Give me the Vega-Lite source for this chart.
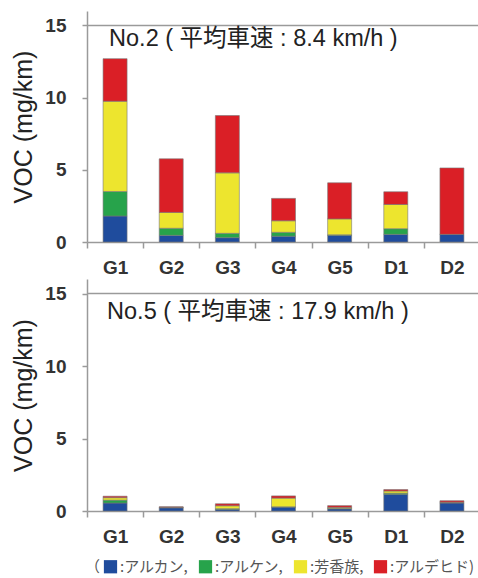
{
  "$schema": "https://vega.github.io/schema/vega-lite/v6.json",
  "padding": {"left": 11, "top": 11, "right": 0, "bottom": 0},
  "background": "white",
  "config": {
    "view": {"stroke": null},
    "font": "Liberation Sans",
    "axis": {"domainColor": "#9a9a9a", "tickColor": "#9a9a9a", "domainWidth": 1.5, "tickWidth": 1.5, "labelColor": "#333333", "labelFontWeight": "bold", "labelFontSize": 19, "labelFont": "Liberation Sans", "grid": false, "titleColor": "#222222", "titleFontWeight": "normal", "titleFont": "Liberation Sans"},
    "concat": {"spacing": 2}
  },
  "datasets": {
    "no2": [
      {"car": "G1", "type": "アルカン", "v": 1.8}, {"car": "G1", "type": "アルケン", "v": 1.7}, {"car": "G1", "type": "芳香族", "v": 6.25}, {"car": "G1", "type": "アルデヒド", "v": 2.95},
      {"car": "G2", "type": "アルカン", "v": 0.46}, {"car": "G2", "type": "アルケン", "v": 0.49}, {"car": "G2", "type": "芳香族", "v": 1.1}, {"car": "G2", "type": "アルデヒド", "v": 3.71},
      {"car": "G3", "type": "アルカン", "v": 0.3}, {"car": "G3", "type": "アルケン", "v": 0.3}, {"car": "G3", "type": "芳香族", "v": 4.19}, {"car": "G3", "type": "アルデヒド", "v": 3.97},
      {"car": "G4", "type": "アルカン", "v": 0.4}, {"car": "G4", "type": "アルケン", "v": 0.27}, {"car": "G4", "type": "芳香族", "v": 0.8}, {"car": "G4", "type": "アルデヒド", "v": 1.55},
      {"car": "G5", "type": "アルカン", "v": 0.46}, {"car": "G5", "type": "アルケン", "v": 0.04}, {"car": "G5", "type": "芳香族", "v": 1.1}, {"car": "G5", "type": "アルデヒド", "v": 2.5},
      {"car": "D1", "type": "アルカン", "v": 0.53}, {"car": "D1", "type": "アルケン", "v": 0.39}, {"car": "D1", "type": "芳香族", "v": 1.68}, {"car": "D1", "type": "アルデヒド", "v": 0.88},
      {"car": "D2", "type": "アルカン", "v": 0.53}, {"car": "D2", "type": "アルケン", "v": 0.0}, {"car": "D2", "type": "芳香族", "v": 0.0}, {"car": "D2", "type": "アルデヒド", "v": 4.6}
    ],
    "no5": [
      {"car": "G1", "type": "アルカン", "v": 0.55}, {"car": "G1", "type": "アルケン", "v": 0.2}, {"car": "G1", "type": "芳香族", "v": 0.17}, {"car": "G1", "type": "アルデヒド", "v": 0.1},
      {"car": "G2", "type": "アルカン", "v": 0.22}, {"car": "G2", "type": "アルケン", "v": 0.02}, {"car": "G2", "type": "芳香族", "v": 0.02}, {"car": "G2", "type": "アルデヒド", "v": 0.03},
      {"car": "G3", "type": "アルカン", "v": 0.1}, {"car": "G3", "type": "アルケン", "v": 0.06}, {"car": "G3", "type": "芳香族", "v": 0.2}, {"car": "G3", "type": "アルデヒド", "v": 0.14},
      {"car": "G4", "type": "アルカン", "v": 0.27}, {"car": "G4", "type": "アルケン", "v": 0.02}, {"car": "G4", "type": "芳香族", "v": 0.6}, {"car": "G4", "type": "アルデヒド", "v": 0.15},
      {"car": "G5", "type": "アルカン", "v": 0.15}, {"car": "G5", "type": "アルケン", "v": 0.03}, {"car": "G5", "type": "芳香族", "v": 0.07}, {"car": "G5", "type": "アルデヒド", "v": 0.12},
      {"car": "D1", "type": "アルカン", "v": 1.15}, {"car": "D1", "type": "アルケン", "v": 0.08}, {"car": "D1", "type": "芳香族", "v": 0.15}, {"car": "D1", "type": "アルデヒド", "v": 0.1},
      {"car": "D2", "type": "アルカン", "v": 0.55}, {"car": "D2", "type": "アルケン", "v": 0.03}, {"car": "D2", "type": "芳香族", "v": 0.03}, {"car": "D2", "type": "アルデヒド", "v": 0.1}
    ]
  },
  "vconcat": [
    {
      "width": 393, "height": 231,
      "layer": [
        {
          "data": {"name": "no2"},
          "transform": [{"calculate": "indexof(['アルカン','アルケン','芳香族','アルデヒド'], datum.type)", "as": "stackOrder"}],
          "mark": {"type": "bar", "width": 24, "stroke": "#777777", "strokeWidth": 0.6},
          "encoding": {
            "x": {"field": "car", "type": "nominal", "sort": ["G1", "G2", "G3", "G4", "G5", "D1", "D2"], "scale": {"paddingInner": 0, "paddingOuter": 0}, "axis": {"title": null, "labelAngle": 0, "tickBand": "extent", "tickSize": 6, "labelPadding": 10}},
            "y": {"field": "v", "type": "quantitative", "stack": "zero", "scale": {"domain": [0, 15]}, "axis": {"title": "VOC (mg/km)", "values": [0, 5, 10, 15], "tickSize": 5, "labelPadding": 16, "titleFontSize": 25, "titlePadding": 8}},
            "order": {"field": "stackOrder", "type": "quantitative", "sort": "ascending"},
            "color": {"field": "type", "type": "nominal",
              "scale": {"domain": ["アルカン", "アルケン", "芳香族", "アルデヒド"], "range": ["#1f4c9d", "#27a34b", "#ede52e", "#da1f26"]},
              "legend": {"title": "（", "orient": "none", "legendX": -2, "legendY": 548, "direction": "horizontal", "symbolType": "square", "symbolSize": 175, "symbolStrokeWidth": 0, "labelFontSize": 15, "labelFont": "Noto Sans CJK JP", "labelColor": "#555555", "titleFontSize": 15, "titleFont": "Noto Sans CJK JP", "titleOrient": "left", "titleFontWeight": "normal", "titleColor": "#555555", "titlePadding": 2, "labelOffset": 2, "columnPadding": 9,
                "labelExpr": "datum.label == 'アルデヒド' ? ':' + datum.label + ')' : ':' + datum.label + ','"}}
          }
        },
        {
          "data": {"values": [{}]},
          "mark": {"type": "rule", "color": "#9a9a9a", "strokeWidth": 1.5},
          "encoding": {"y": {"datum": 15}}
        },
        {
          "data": {"values": [{}]},
          "mark": {"type": "text", "align": "left", "baseline": "top", "dx": -6, "dy": 2, "fontSize": 23.5, "font": "Liberation Sans, Noto Sans CJK JP", "color": "#222222", "text": "No.2 ( 平均車速 : 8.4 km/h )"},
          "encoding": {"x": {"datum": "G1"}, "y": {"datum": 15}}
        }
      ]
    },
    {
      "width": 393, "height": 232,
      "layer": [
        {
          "data": {"name": "no5"},
          "transform": [{"calculate": "indexof(['アルカン','アルケン','芳香族','アルデヒド'], datum.type)", "as": "stackOrder"}],
          "mark": {"type": "bar", "width": 24, "stroke": "#777777", "strokeWidth": 0.6},
          "encoding": {
            "x": {"field": "car", "type": "nominal", "sort": ["G1", "G2", "G3", "G4", "G5", "D1", "D2"], "scale": {"paddingInner": 0, "paddingOuter": 0}, "axis": {"title": null, "labelAngle": 0, "tickBand": "extent", "tickSize": 6, "labelPadding": 10}},
            "y": {"field": "v", "type": "quantitative", "stack": "zero", "scale": {"domain": [0, 15]}, "axis": {"title": "VOC (mg/km)", "values": [0, 5, 10, 15], "tickSize": 5, "labelPadding": 16, "titleFontSize": 25, "titlePadding": 8}},
            "order": {"field": "stackOrder", "type": "quantitative", "sort": "ascending"},
            "color": {"field": "type", "type": "nominal",
              "scale": {"domain": ["アルカン", "アルケン", "芳香族", "アルデヒド"], "range": ["#1f4c9d", "#27a34b", "#ede52e", "#da1f26"]}}
          }
        },
        {
          "data": {"values": [{}]},
          "mark": {"type": "rule", "color": "#9a9a9a", "strokeWidth": 1.5},
          "encoding": {"y": {"datum": 15}}
        },
        {
          "data": {"values": [{}]},
          "mark": {"type": "text", "align": "left", "baseline": "top", "dx": -8, "dy": 6, "fontSize": 23.5, "font": "Liberation Sans, Noto Sans CJK JP", "color": "#222222", "text": "No.5 ( 平均車速 : 17.9 km/h )"},
          "encoding": {"x": {"datum": "G1"}, "y": {"datum": 15}}
        }
      ]
    }
  ]
}
